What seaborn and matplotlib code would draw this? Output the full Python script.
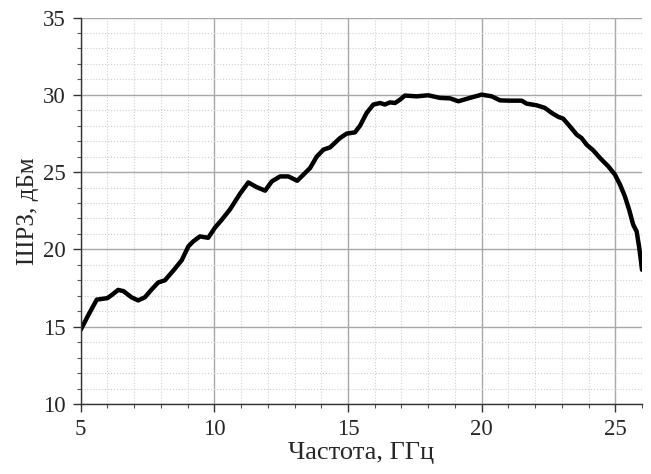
import pandas as pd
import matplotlib.pyplot as plt
import seaborn as sns
from matplotlib.ticker import MultipleLocator

# Estilo base
sns.set_style("white")
plt.rcParams['font.family'] = ['Liberation Serif', 'DejaVu Serif']

# Datos (frecuencia en GHz, potencia en dBm)
freq_ghz = [5.0, 5.3, 5.6, 6.0, 6.2, 6.4, 6.6, 6.9, 7.15, 7.4, 7.65, 7.9, 8.15,
            8.5, 8.78, 9.03, 9.2, 9.46, 9.77, 10.02, 10.27, 10.59, 10.96, 11.27,
            11.58, 11.9, 12.15, 12.46, 12.77, 13.1, 13.33, 13.58, 13.83, 14.08,
            14.33, 14.7, 14.95, 15.26, 15.45, 15.7, 15.95, 16.2, 16.38, 16.57,
            16.76, 16.95, 17.13, 17.57, 18.0, 18.44, 18.82, 19.13, 19.56, 20.0,
            20.38, 20.69, 21.06, 21.5, 21.68, 22.06, 22.37, 22.62, 22.87, 23.05,
            23.3, 23.56, 23.74, 23.93, 24.18, 24.43, 24.74, 24.99, 25.18, 25.36,
            25.52, 25.67, 25.8, 25.89, 25.95, 26.0]
power_dbm = [14.8, 15.8, 16.75, 16.85, 17.1, 17.38, 17.3, 16.9, 16.7, 16.9, 17.4,
             17.86, 18.0, 18.7, 19.3, 20.2, 20.5, 20.84, 20.75, 21.4, 21.9, 22.6,
             23.6, 24.33, 24.03, 23.8, 24.4, 24.72, 24.72, 24.44, 24.83, 25.26,
             26.0, 26.45, 26.6, 27.2, 27.49, 27.57, 28.0, 28.83, 29.37, 29.47,
             29.37, 29.51, 29.47, 29.69, 29.95, 29.9, 29.97, 29.8, 29.77, 29.58,
             29.8, 30.01, 29.9, 29.64, 29.62, 29.62, 29.43, 29.32, 29.15, 28.83,
             28.57, 28.46, 27.96, 27.42, 27.2, 26.77, 26.4, 25.91, 25.37, 24.83,
             24.18, 23.43, 22.56, 21.6, 21.16, 20.19, 19.4, 18.68]

x_ticks = [5, 10, 15, 20, 25]
y_ticks = [10, 15, 20, 25, 30, 35]

df = pd.DataFrame({'f': freq_ghz, 'p': power_dbm})

fig = plt.figure(figsize=(6.51, 4.74), dpi=100)
ax = fig.add_axes([80.7 / 651, 1 - 404 / 474, (642 - 80.7) / 651, (404 - 17.5) / 474])

sns.lineplot(data=df, x='f', y='p', ax=ax, color='black', linewidth=3.2)

ax.set_xlim(5, 26)
ax.set_ylim(10, 35)
ax.set_xticks(x_ticks)
ax.set_yticks(y_ticks)
ax.xaxis.set_minor_locator(MultipleLocator(1))
ax.yaxis.set_minor_locator(MultipleLocator(1))

# Rejilla mayor y menor
ax.grid(which='major', color='#a8a8a8', linewidth=1.0, linestyle='-')
ax.grid(which='minor', color='#cfcfcf', linewidth=0.8, linestyle=':')
ax.set_axisbelow(True)

for side in ['top', 'right']:
    ax.spines[side].set_visible(False)
for side in ['left', 'bottom']:
    ax.spines[side].set_color('#333333')
    ax.spines[side].set_linewidth(1.0)

ax.tick_params(which='major', direction='out', length=6, width=1, color='#333333',
               labelsize=16.5, pad=4.5, bottom=True, left=True)
ax.tick_params(which='minor', direction='out', length=3, width=0.8, color='#555555',
               bottom=True, left=True)

ax.set_xlabel('Частота, ГГц', fontsize=19, labelpad=2)
ax.set_ylabel('ШРЗ, дБм', fontsize=18, labelpad=3)

plt.savefig('out.png', dpi=100)
